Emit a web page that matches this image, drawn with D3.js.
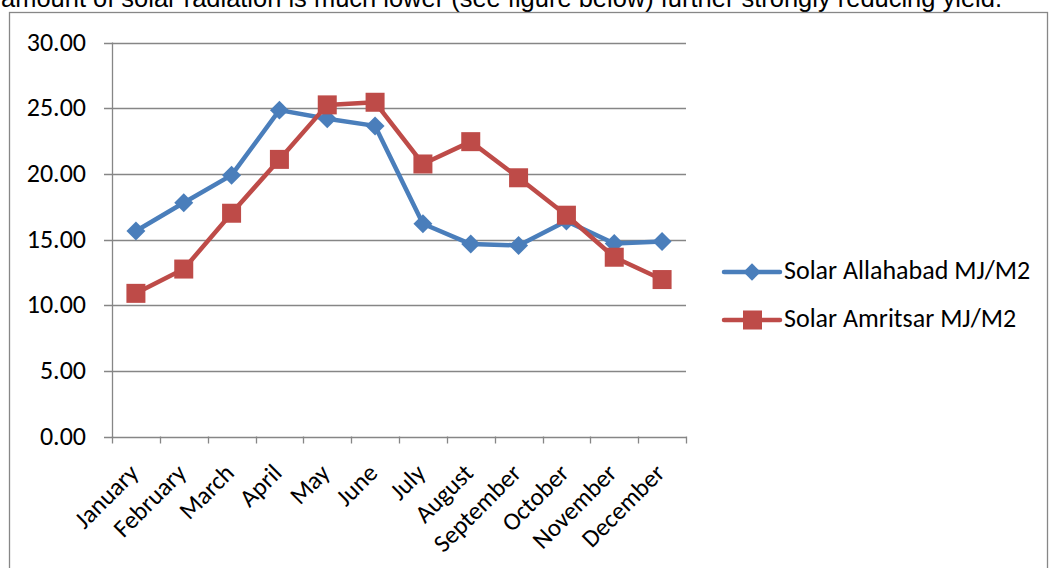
<!DOCTYPE html>
<html><head><meta charset="utf-8">
<script src="https://cdn.jsdelivr.net/npm/d3@7"></script>
<style>body{margin:0;background:#fff;overflow:hidden}svg{display:block}text{font-family:Carlito,Lato,"Open Sans",sans-serif;fill:#000}</style>
</head><body>
<svg id="c" width="1050" height="568"></svg>
<script>
const months = ["January","February","March","April","May","June","July","August","September","October","November","December"];
const allahabad = [15.65,17.8,19.9,24.85,24.2,23.65,16.2,14.65,14.55,16.4,14.7,14.85];
const amritsar = [10.9,12.75,17.0,21.1,25.25,25.45,20.75,22.45,19.7,16.85,13.65,11.95];
const yTicks = [0,5,10,15,20,25,30];
const seriesNames = ["Solar Allahabad MJ/M2","Solar Amritsar MJ/M2"];
const colors = ["#4A7EBB","#BE4B48"];

const svg = d3.select("#c");
const L=112, R=686, T=42.5, B=436.5;

svg.append("text").attr("x",1).attr("y",7)
  .style("font-family","'Liberation Sans Narrow','Liberation Sans',Arial,sans-serif").style("font-size","25px")
  .attr("textLength",1001).attr("lengthAdjust","spacingAndGlyphs")
  .text("amount of solar radiation is much lower (see figure below) further strongly reducing yield.");
svg.append("rect").attr("x",9.5).attr("y",12.5).attr("width",1038).attr("height",600)
  .attr("fill","none").attr("stroke","#878787").attr("stroke-width",1.3);

const x = d3.scaleBand().domain(months).range([L,R]);
const y = d3.scaleLinear().domain([0,30]).range([B,T]);

svg.append("g").selectAll("line").data(yTicks).join("line")
  .attr("x1",L-8).attr("x2",R).attr("y1",d=>Math.round(y(d))+0.5).attr("y2",d=>Math.round(y(d))+0.5)
  .attr("stroke","#868686").attr("stroke-width",1.3);
svg.append("g").selectAll("text").data(yTicks).join("text")
  .attr("x",86).attr("y",d=>y(d)+8).attr("text-anchor","end").style("font-size","26px")
  .text(d=>d3.format(".2f")(d));
svg.append("line").attr("x1",L+0.5).attr("x2",L+0.5).attr("y1",T).attr("y2",B+0.5).attr("stroke","#868686").attr("stroke-width",1.3);
const bounds = months.map(m=>x(m)).concat([R]);
svg.append("g").selectAll("line").data(bounds).join("line")
  .attr("x1",d=>Math.round(d)+0.5).attr("x2",d=>Math.round(d)+0.5).attr("y1",B).attr("y2",B+7)
  .attr("stroke","#868686").attr("stroke-width",1.3);
svg.append("g").selectAll("text").data(months).join("text")
  .attr("text-anchor","end").style("font-size","25px")
  .attr("transform",d=>`translate(${x(d)+x.bandwidth()/2+4},${B+38}) rotate(-45)`)
  .text(d=>d);

const cx = d=>x(d)+x.bandwidth()/2;
const data = [allahabad, amritsar];
const line = d3.line().x((v,i)=>cx(months[i])).y(v=>y(v));
data.forEach((s,k)=>{
  svg.append("path").datum(s).attr("d",line).attr("fill","none").attr("stroke",colors[k])
    .attr("stroke-width",4.5).attr("stroke-linejoin","round");
});
function marker(g,k,px,py){
  if(k===0){
    g.append("path").attr("d",d3.symbol(d3.symbolSquare,180)()).attr("transform",`translate(${px},${py}) rotate(45)`).attr("fill",colors[0]);
  } else {
    g.append("rect").attr("x",px-9.5).attr("y",py-9.5).attr("width",19).attr("height",19).attr("fill",colors[1]);
  }
}
data.forEach((s,k)=>{
  const g = svg.append("g");
  s.forEach((v,i)=>marker(g,k,cx(months[i]),y(v)));
});
seriesNames.forEach((n,k)=>{
  const ly = 272 + k*48;
  svg.append("line").attr("x1",724).attr("x2",780).attr("y1",ly).attr("y2",ly).attr("stroke",colors[k]).attr("stroke-width",4.5).attr("stroke-linecap","round");
  const g=svg.append("g");
  if(k===0) g.append("path").attr("d",d3.symbol(d3.symbolSquare,150)()).attr("transform",`translate(752,${ly}) rotate(45)`).attr("fill",colors[0]);
  else g.append("rect").attr("x",743).attr("y",ly-9.5).attr("width",19).attr("height",19).attr("fill",colors[1]);
  svg.append("text").attr("x",784).attr("y",ly+7).style("font-size","26px").text(n);
});
</script>
</body></html>
